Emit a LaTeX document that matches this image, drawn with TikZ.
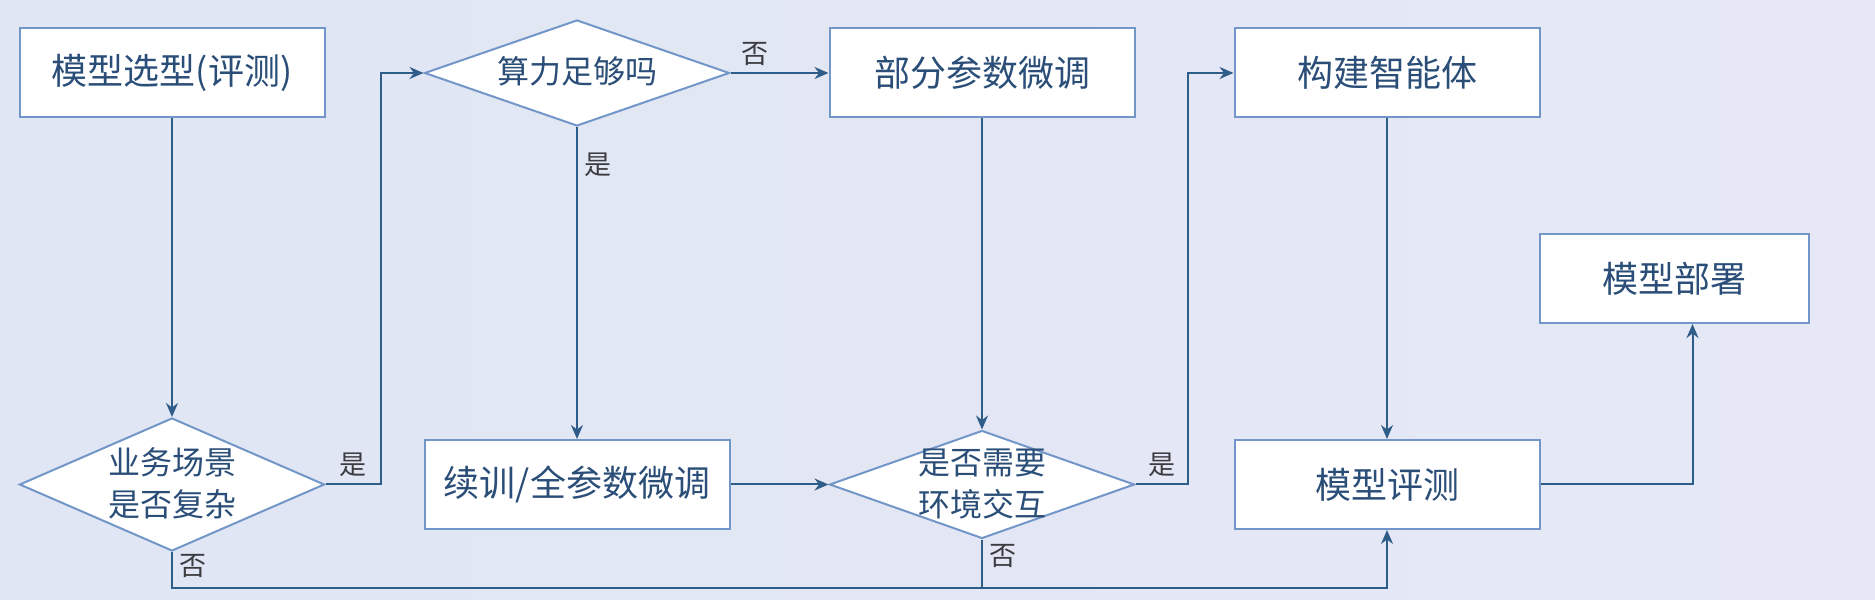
\documentclass[tikz,border=0pt]{standalone}
\usepackage{fontspec}
\setmainfont{Noto Sans CJK SC}
\usetikzlibrary{arrows.meta,shapes.geometric}
\definecolor{lineBlue}{HTML}{2F5D8A}
\definecolor{boxBlue}{HTML}{7296C8}
\definecolor{textBlue}{HTML}{2A4E78}
\definecolor{labelGray}{HTML}{3C3C40}
\definecolor{bgLeft}{HTML}{E0E6F4}
\definecolor{bgMid}{HTML}{EEF0F7}
\definecolor{bgRight}{HTML}{E6E8F5}
% text of a diamond, taking no room of its own
\newcommand{\flatText}[1]{\makebox[0pt]{\raisebox{-0.35em}[0pt][0pt]{\begin{tabular}{@{}c@{}}#1\end{tabular}}}}
\tikzset{
     processNode/.style =
        { rectangle
        , draw=boxBlue
        , fill=white
        , minimum width=152.5pt
        , minimum height=44.5pt
        , font=\fontsize{18pt}{22pt}\selectfont
        , text=textBlue
        }
   , decisionNode/.style =
        { diamond
        , draw=boxBlue
        , fill=white
        , inner sep=0pt
        , minimum width=152.5pt
        , font=\fontsize{16pt}{21pt}\selectfont
        , text=textBlue
        }
   , edgeLabel/.style =
        { font=\fontsize{13.5pt}{15pt}\selectfont
        , text=labelGray
        }
}
\begin{document}
\begin{tikzpicture}
            [ auto
            , ->
            , >={Stealth[length=7pt, width=6pt]}
            , line width=1pt
            , draw=lineBlue
            , node distance=202.5pt
            ]
            \shade[left color=bgLeft, middle color=bgMid, right color=bgRight] (0,0) rectangle (937.5pt,300pt);
            \useasboundingbox (0,0) rectangle (937.5pt,300pt);

            \node[processNode] (1) at (86pt,263.5pt) {模型选型(评测)};
            \node[decisionNode, minimum height=53pt] (2) [right of=1] {\flatText{算力足够吗}};
            \node[processNode] (3) [right of=2] {部分参数微调};
            \node[processNode] (4) [right of=3] {构建智能体};
            \node[decisionNode, minimum height=66.5pt] (5) [below of=1, node distance=205.75pt] {\flatText{业务场景\\是否复杂}};
            \node[processNode] (6) [right of=5] {续训/全参数微调};
            \node[decisionNode, minimum height=54pt] (7) [right of=6] {\flatText{是否需要\\环境交互}};
            \node[processNode] (8) [right of=7] {模型评测};
            \node[processNode, minimum width=134.5pt] (9) [above of=8, node distance=103pt, xshift=143.75pt] {模型部署};

            \coordinate (bus) at ([yshift=-18pt]5.south);

            \path
            (1) edge (5)
            (2) edge node[edgeLabel, pos=0.25] {否} (3)
            (2) edge node[edgeLabel, pos=0.12] {是} (6)
            (6) edge (7)
            (3) edge (7)
            (4) edge (8)
            ;

            \draw (5.east) -- node[edgeLabel] {是} ++(27.5pt,0) |- (2);
            \draw (7.east) -- node[edgeLabel] {是} ++(26pt,0) |- (4);
            \draw (5) -- node[edgeLabel, pos=0.4] {否} (bus) -| (8);
            \draw[-] (7) -- node[edgeLabel, pos=0.35] {否} (7 |- bus);
            \draw (8) -| ([xshift=9pt]9.south);
        \end{tikzpicture}
\end{document}
